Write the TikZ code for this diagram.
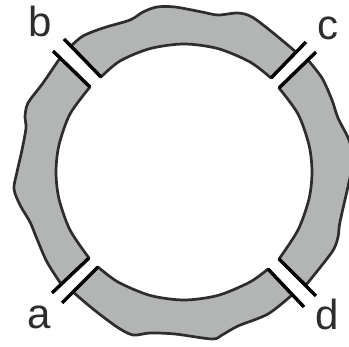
\documentclass[tikz,border=0pt]{standalone}
\usepackage{fontspec}
\setmainfont{Liberation Sans}
\definecolor{ringgray}{HTML}{B3B5B4}
\definecolor{ringline}{HTML}{2D2D2D}
\tikzset{
  ringpart/.style={line width=2.7pt, draw=ringline, fill=ringgray, line join=round},
  gapline/.style={line width=3.4pt, black},
  letter/.style={anchor=base, font=\fontsize{42}{42}\selectfont, text=ringline, inner sep=0pt}
}
\begin{document}
\begin{tikzpicture}[x=1pt, y=-1pt]
\useasboundingbox (0,0) rectangle (349,347);

% Top section of the ring
\draw[ringpart] plot[smooth] coordinates {(71,46) (83,36) (103,28) (130,20) (143,12) (157,7) (175,7) (202,12) (218,15) (238,13) (252,17) (272,32) (296,52)}
  -- (271,78)
  -- plot[smooth] coordinates {(271,78) (250,62) (218,48.6) (184,44) (150,48.6) (120,61) (101,77)} -- cycle;

% Left section of the ring
\draw[ringpart] plot[smooth] coordinates {(60,58) (43,83) (28,103) (25,117) (26,128) (22,150) (17,172) (14,189) (20,205) (30,222) (37,239) (47,262) (61,284)}
  -- (89,258)
  -- plot[smooth] coordinates {(89,258) (70,230) (59,199) (56,172) (59,145) (70,114) (90,87)} -- cycle;

% Bottom section of the ring
\draw[ringpart] plot[smooth] coordinates {(73,292) (93,309) (117,327) (133,335) (150,333) (175,334) (212,339) (222,335) (238,326) (268,314) (292,295)}
  -- (268,269)
  -- plot[smooth] coordinates {(268,269) (250,282) (218,295.4) (184,300) (150,295.4) (118,282) (98,267)} -- cycle;

% Right section of the ring
\draw[ringpart] plot[smooth] coordinates {(308,60) (322,78) (332,100) (338,118) (349,140) (353,160) (349,182) (340,222) (338,237) (332,252) (306,285)}
  -- (279,259)
  -- plot[smooth] coordinates {(279,259) (298,230) (309,199) (312,172) (309,145) (298,114) (279,88)} -- cycle;

% Gap lines
\draw[gapline] (52,293) -- (89,258);
\draw[gapline] (62,303) -- (98,267);
\draw[gapline] (53,51) -- (90,87);
\draw[gapline] (64,39) -- (101,77);
\draw[gapline] (306,42) -- (271,78);
\draw[gapline] (316,52) -- (279,88);
\draw[gapline] (268,269) -- (304,307);
\draw[gapline] (279,259) -- (316,296);

% Labels
\node[letter] (a) at (39,329) {a};
\node[letter] (b) at (40,37) {b};
\node[letter] (c) at (328,40) {c};
\node[letter] (d) at (327,330) {d};

\end{tikzpicture}
\end{document}
